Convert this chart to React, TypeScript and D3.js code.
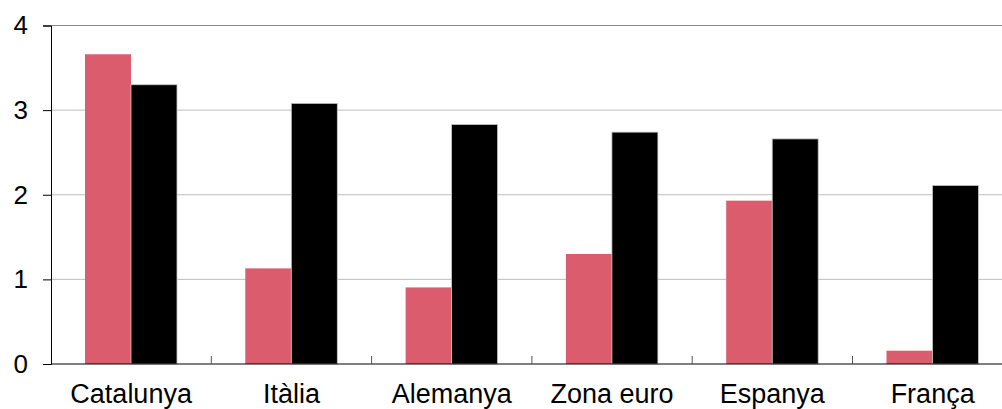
import { useRef, useEffect } from 'react';
import * as d3 from 'd3';

// Categories and the two series
const categories = ['Catalunya', 'Itàlia', 'Alemanya', 'Zona euro', 'Espanya', 'França'];
const seriesRed = [3.66, 1.13, 0.905, 1.3, 1.93, 0.157];
const seriesBlack = [3.3, 3.08, 2.83, 2.74, 2.66, 2.11];
const yTicks = [0, 1, 2, 3, 4];

export default function App() {
  const svgRef = useRef<SVGSVGElement | null>(null);

  useEffect(() => {
    if (!svgRef.current) return;
    const svg = d3.select(svgRef.current);
    svg.selectAll('*').remove();

    const width = 1002;
    const left = 51;
    const catW = 160.3;
    const font = 'Liberation Sans, Arial, sans-serif';

    const x = d3
      .scaleBand()
      .domain(categories)
      .range([left, left + catW * categories.length])
      .padding(0);

    const sub = d3.scaleBand().domain(['a', 'b']).range([34, 126]).padding(0);

    const y = d3.scaleLinear().domain([0, 4]).range([364, 25.5]);

    // gridlines
    svg
      .append('g')
      .selectAll('line')
      .data(yTicks.filter((d) => d > 0))
      .enter()
      .append('line')
      .attr('x1', left)
      .attr('x2', width)
      .attr('y1', (d) => y(d))
      .attr('y2', (d) => y(d))
      .attr('stroke', (d) => (d === 4 ? '#8a8a8a' : '#bdbdbd'))
      .attr('stroke-width', 1);

    // bars
    const rows = categories.map((c, i) => ({ c, a: seriesRed[i], b: seriesBlack[i] }));
    const grp = svg
      .append('g')
      .selectAll('g')
      .data(rows)
      .enter()
      .append('g')
      .attr('transform', (d) => `translate(${x(d.c)},0)`);

    grp
      .append('rect')
      .attr('x', sub('a') || 0)
      .attr('width', sub.bandwidth())
      .attr('y', (d) => y(d.a))
      .attr('height', (d) => y(0) - y(d.a))
      .attr('fill', '#db5c6c');

    grp
      .append('rect')
      .attr('x', sub('b') || 0)
      .attr('width', sub.bandwidth())
      .attr('y', (d) => y(d.b))
      .attr('height', (d) => y(0) - y(d.b))
      .attr('fill', '#000')
      .attr('stroke', '#c8c8c8')
      .attr('stroke-width', 0.8);

    // y axis
    const yAxis = svg
      .append('g')
      .attr('transform', `translate(${left},0)`)
      .call(d3.axisLeft(y).tickValues(yTicks).tickSize(8).tickPadding(15).tickFormat(d3.format('d')));
    yAxis.select('.domain').attr('stroke', '#000');
    yAxis.selectAll('.tick line').attr('stroke', '#000');
    yAxis
      .selectAll('.tick text')
      .attr('font-family', font)
      .attr('font-size', 26)
      .attr('fill', '#000');

    // x axis baseline with inside ticks at category boundaries
    svg
      .append('line')
      .attr('x1', left)
      .attr('x2', width)
      .attr('y1', y(0))
      .attr('y2', y(0))
      .attr('stroke', '#000');

    svg
      .append('g')
      .selectAll('line')
      .data(categories.slice(1))
      .enter()
      .append('line')
      .attr('x1', (d) => x(d) || 0)
      .attr('x2', (d) => x(d) || 0)
      .attr('y1', y(0) - 8)
      .attr('y2', y(0))
      .attr('stroke', '#555');

    svg
      .append('g')
      .selectAll('text')
      .data(categories)
      .enter()
      .append('text')
      .attr('x', (d) => (x(d) || 0) + x.bandwidth() / 2)
      .attr('y', 403)
      .attr('text-anchor', 'middle')
      .attr('font-family', font)
      .attr('font-size', 27)
      .attr('fill', '#000')
      .text((d) => d);
  }, []);

  return (
    <svg
      ref={svgRef}
      width="1002"
      height="409"
      viewBox="0 0 1002 409"
      style={{ position: 'absolute', left: 0, top: 0, background: '#fff' }}
    />
  );
}
